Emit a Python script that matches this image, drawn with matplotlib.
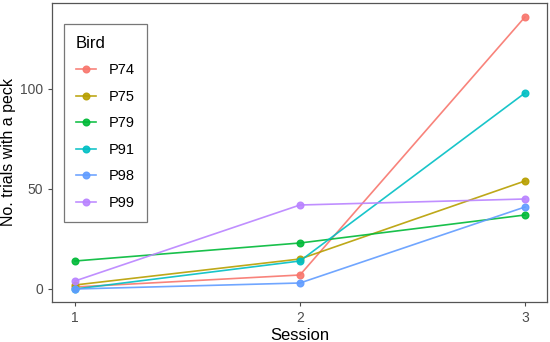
import matplotlib
matplotlib.use("Agg")
import matplotlib.pyplot as plt
from matplotlib.lines import Line2D

plt.rcParams['font.family'] = ['Liberation Sans', 'DejaVu Sans']

sessions = [1, 2, 3]
birds = ["P74", "P75", "P79", "P91", "P98", "P99"]
p74 = [1, 7, 136]
p75 = [2, 15, 54]
p79 = [14, 23, 37]
p91 = [0, 14, 98]
p98 = [0, 3, 41]
p99 = [4, 42, 45]
series = [p74, p75, p79, p91, p98, p99]
colors = ["#F8766D", "#B79F00", "#00BA38", "#00BFC4", "#619CFF", "#B983FF"]
yticks = [0, 50, 100]
xticks = [1, 2, 3]

fig = plt.figure(figsize=(5.5, 3.42), dpi=100)
ax = fig.add_axes([52/550, 40/342, 495/550, 299/342])

for vals, c in zip(series, colors):
    ax.plot(sessions, vals, color=c, lw=1.2, marker='o', ms=4.8, alpha=0.9)

ax.set_xlim(0.898, 3.098)
ax.set_ylim(-6.5, 143)
ax.set_xticks(xticks)
ax.set_xticklabels([str(t) for t in xticks])
ax.set_yticks(yticks)
for s in ax.spines.values():
    s.set_color("#555555")
    s.set_linewidth(0.9)
ax.tick_params(colors="#4D4D4D", labelsize=10, length=3, width=0.8, labelcolor="#4D4D4D")
ax.set_xlabel("Session", fontsize=12, color="black", labelpad=2)
ax.set_ylabel("No. trials with a peck", fontsize=11.5, color="black", labelpad=3)

handles = [Line2D([0], [0], color=c, lw=1.2, marker='o', ms=4.8, alpha=0.9) for c in colors]
leg = ax.legend(handles, birds, title="Bird", loc="upper left",
                bbox_to_anchor=(12/495, 1 - 21/299), borderaxespad=0,
                frameon=True, fancybox=False,
                fontsize=10.5, title_fontsize=12, handlelength=1.4,
                labelspacing=0.86, borderpad=0.8, handletextpad=0.9, alignment='left')
leg.get_frame().set_edgecolor("#555555")
leg.get_frame().set_linewidth(0.9)

fig.savefig("out.png", dpi=100)
